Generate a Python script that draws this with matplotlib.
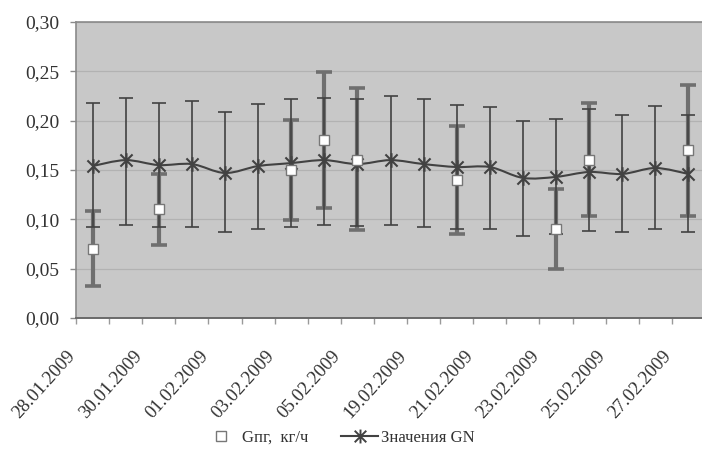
import numpy as np
import matplotlib
matplotlib.use("Agg")
import matplotlib.pyplot as plt
from matplotlib.path import Path
from matplotlib.patches import PathPatch
from matplotlib.lines import Line2D
from matplotlib.ticker import FuncFormatter, MultipleLocator

plt.rcParams['font.family'] = ['Liberation Serif', 'DejaVu Serif']

# ---- data ----
dates = ["28.01.2009", "29.01.2009", "30.01.2009", "31.01.2009", "01.02.2009",
         "02.02.2009", "03.02.2009", "04.02.2009", "05.02.2009", "06.02.2009",
         "19.02.2009", "20.02.2009", "21.02.2009", "22.02.2009", "23.02.2009",
         "24.02.2009", "25.02.2009", "26.02.2009", "27.02.2009"]
shown_labels = ["28.01.2009", "30.01.2009", "01.02.2009", "03.02.2009", "05.02.2009",
                "19.02.2009", "21.02.2009", "23.02.2009", "25.02.2009", "27.02.2009"]

gn_values = [0.154, 0.160, 0.155, 0.156, 0.147, 0.154, 0.157, 0.160, 0.156, 0.160,
             0.156, 0.153, 0.153, 0.142, 0.143, 0.148, 0.146, 0.152, 0.146]
gn_upper = [0.218, 0.223, 0.218, 0.220, 0.209, 0.217, 0.222, 0.223, 0.222, 0.225,
            0.222, 0.216, 0.214, 0.200, 0.202, 0.212, 0.206, 0.215, 0.206]
gn_lower = [0.092, 0.094, 0.092, 0.092, 0.087, 0.090, 0.092, 0.094, 0.093, 0.094,
            0.092, 0.090, 0.090, 0.083, 0.085, 0.088, 0.087, 0.090, 0.087]

gpg_values = [0.07, np.nan, 0.11, np.nan, np.nan, np.nan, 0.15, 0.18, 0.16, np.nan,
              np.nan, 0.14, np.nan, np.nan, 0.09, 0.16, np.nan, np.nan, 0.17]
gpg_upper = [0.108, np.nan, 0.146, np.nan, np.nan, np.nan, 0.201, 0.249, 0.233, np.nan,
             np.nan, 0.195, np.nan, np.nan, 0.131, 0.218, np.nan, np.nan, 0.236]
gpg_lower = [0.032, np.nan, 0.074, np.nan, np.nan, np.nan, 0.099, 0.111, 0.089, np.nan,
             np.nan, 0.085, np.nan, np.nan, 0.050, 0.103, np.nan, np.nan, 0.103]

legend_gpg = "Gпг,  кг/ч"
legend_gn = "Значения GN"

# ---- figure ----
W, H = 702, 457
fig = plt.figure(figsize=(W / 100, H / 100), dpi=100)
ax = fig.add_axes([76 / W, 1 - 318 / H, 629 / W, 296 / H])

bg = '#c8c8c8'
dark = '#424242'
gray_bar = '#6f6f6f'
txt = '#333333'

ax.set_facecolor(bg)
x = np.arange(len(dates))
ax.set_xlim(-0.5, len(dates) - 0.5)
ax.set_ylim(0, 0.30)

ax.yaxis.set_major_locator(MultipleLocator(0.05))
ax.yaxis.set_major_formatter(FuncFormatter(lambda v, p: f"{v:.2f}".replace('.', ',')))
ax.grid(axis='y', color='#b2b2b2', lw=0.9, zorder=0)
ax.set_axisbelow(True)

# Gпг error bars (thick gray)
gv = np.array(gpg_values)
gerr = np.vstack([gv - np.array(gpg_lower), np.array(gpg_upper) - gv])
mask = ~np.isnan(gv)
ax.errorbar(x[mask], gv[mask], yerr=gerr[:, mask], fmt='none', ecolor=gray_bar,
            elinewidth=3.0, capsize=5.5, capthick=2.6, zorder=2)

# GN error bars (thin dark)
nv = np.array(gn_values)
nerr = np.vstack([nv - np.array(gn_lower), np.array(gn_upper) - nv])
ax.errorbar(x, nv, yerr=nerr, fmt='none', ecolor=dark, elinewidth=1.2,
            capsize=4.8, capthick=1.2, zorder=3)

# smoothed GN line (Catmull-Rom style Bezier through the data points)
pts = np.column_stack([x, nv])
verts = [tuple(pts[0])]
codes = [Path.MOVETO]
n = len(pts)
for i in range(n - 1):
    p0 = pts[i - 1] if i > 0 else pts[i]
    p1 = pts[i]
    p2 = pts[i + 1]
    p3 = pts[i + 2] if i + 2 < n else pts[i + 1]
    c1 = p1 + (p2 - p0) / 6.0
    c2 = p2 - (p3 - p1) / 6.0
    verts += [tuple(c1), tuple(c2), tuple(p2)]
    codes += [Path.CURVE4] * 3
ax.add_patch(PathPatch(Path(verts, codes), fill=False, edgecolor=dark, lw=1.5, zorder=4))

star = Path([(-1, -1), (1, 1), (-1, 1), (1, -1), (0, -1.2), (0, 1.2)],
            [Path.MOVETO, Path.LINETO, Path.MOVETO, Path.LINETO, Path.MOVETO, Path.LINETO])
ax.plot(x, nv, linestyle='none', marker=star, markersize=10.5, markeredgewidth=1.5,
        color=dark, zorder=5)

# Gпг squares
ax.plot(x[mask], gv[mask], linestyle='none', marker='s', markersize=6.5,
        markerfacecolor='white', markeredgecolor='#777777', markeredgewidth=1.0, zorder=6)

# spines and ticks
ax.spines['right'].set_visible(False)
ax.spines['top'].set_color('#8a8a8a')
ax.spines['top'].set_linewidth(1.2)
ax.spines['left'].set_color('#8a8a8a')
ax.spines['left'].set_linewidth(1.2)
ax.spines['bottom'].set_color('#6a6a6a')
ax.spines['bottom'].set_linewidth(1.4)

ax.tick_params(axis='y', length=4, width=1, color='#8a8a8a', pad=8,
               labelsize=14, labelcolor=txt)
ax.set_xticks(np.arange(len(dates) + 1) - 0.5)
ax.set_xticklabels([])
ax.tick_params(axis='x', length=4, width=1, color='#9a9a9a')

for lab in shown_labels:
    i = dates.index(lab)
    ax.text(i - 0.5, -0.039, lab, rotation=48, ha='right', va='baseline',
            rotation_mode='anchor', fontsize=13.5, color=txt, clip_on=False)

# legend
h1 = Line2D([], [], linestyle='none', marker='s', markersize=6.5,
            markerfacecolor='white', markeredgecolor='#777777', markeredgewidth=1.0)
h2 = Line2D([], [], color=dark, lw=1.5, marker=star, markersize=10,
            markeredgewidth=1.4)
fig.legend([h1, h2], [legend_gpg, legend_gn], loc='center',
           bbox_to_anchor=(0.4825, 1 - 438 / H), ncol=2, frameon=False,
           fontsize=12, handlelength=2.2, handletextpad=0.2, columnspacing=1.95,
           labelcolor=txt)

fig.savefig('out.png', dpi=100, facecolor='white')
